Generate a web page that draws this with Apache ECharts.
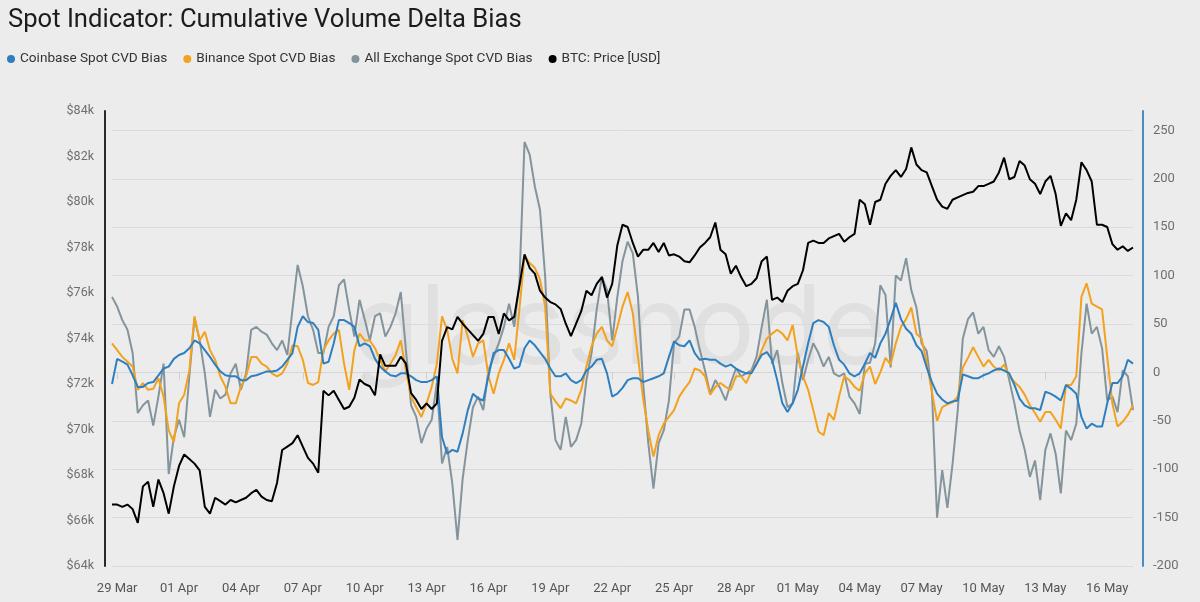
<!DOCTYPE html>
<html>
<head>
<meta charset="utf-8">
<title>Spot Indicator: Cumulative Volume Delta Bias</title>
<script src="https://cdn.jsdelivr.net/npm/echarts@6/dist/echarts.min.js"></script>
<style>
  html, body { margin: 0; padding: 0; background: #ececec; }
  #chart { width: 1200px; height: 602px; }
</style>
</head>
<body>
<div id="chart"></div>
<script>
// 6-hourly samples starting 28 Mar 18:00
const startTime = Date.UTC(2024, 2, 28, 18);
const stepHours = 6;

const tickLabels = ['29 Mar', '01 Apr', '04 Apr', '07 Apr', '10 Apr', '13 Apr', '16 Apr', '19 Apr', '22 Apr',
    '25 Apr', '28 Apr', '01 May', '04 May', '07 May', '10 May', '13 May', '16 May'];

const btcPrice = [
    66700, 66700, 66600, 66700, 66500, 65900, 67500, 67700, 66600, 67800,
    67200, 66300, 67500, 68400, 68900, 68700, 68500, 68200, 66600, 66300,
    67000, 66850, 66700, 66900, 66800, 66900, 67000, 67200, 67350, 67050,
    66900, 66850, 67650, 69100, 69250, 69400, 69750, 69250, 68750, 68500,
    68100, 71700, 71500, 71700, 71300, 70900, 71000, 71400, 72200, 72000,
    71900, 71500, 73300, 72800, 72800, 72800, 73200, 72900, 71600, 71300,
    70900, 71150, 70900, 71150, 73900, 74500, 74400, 74950, 74650, 74400,
    74150, 73900, 74200, 74950, 74950, 74200, 75100, 74800, 74950, 76300,
    77700, 77100, 76850, 76100, 75800, 75600, 75500, 75300, 74650, 74100,
    74650, 75200, 76100, 75900, 76400, 76700, 75800, 76400, 78100, 79000,
    78900, 78200, 77600, 77900, 77900, 78200, 77800, 78200, 77650, 77700,
    77600, 77400, 77350, 77650, 78000, 78200, 78450, 79100, 77900, 77700,
    76850, 77200, 76700, 76300, 76400, 76650, 77400, 77600, 75700, 75800,
    75600, 76100, 76300, 76400, 77000, 78200, 78300, 78200, 78200, 78400,
    78500, 78600, 78250, 78450, 78600, 80100, 79900, 79000, 80000, 80100,
    80800, 81150, 81400, 81100, 81450, 82400, 81650, 81400, 81300, 80700,
    80100, 79800, 79700, 80100, 80200, 80300, 80400, 80450, 80700, 80700,
    80800, 80900, 81300, 81950, 81000, 81100, 81800, 81600, 81000, 80800,
    80350, 80900, 81150, 80350, 78950, 79500, 79200, 80100, 81750, 81400,
    80900, 79000, 79000, 78900, 78150, 77900, 78050, 77850, 78000
];

const coinbaseBias = [
    -12, 14, 11, 8, -3, -15, -15, -11, -10, -3, 4, 6, 14, 18, 20, 25, 33, 30, 23, 16,
    8, 1, -3, -4, -4, -8, -8, -4, -3, -1, 1, 1, 2, 6, 13, 20, 47, 58, 52, 51,
    44, 9, 11, 30, 54, 54, 51, 47, 27, 30,
    27, 14, 6, 1, -3, -4, -1, -1, -4, -8, -10, -10, -8, -4, -67, -84, -80, -82, -63, -39,
    -22, -27, -29, -4, 20, 23, 23, 14, 4, 6, 25, 33, 28, 21, 14, 4, -4, -4, -1, -8,
    -11, -8, 2, 6, 13, 14, -1, -25, -22, -16,
    -8, -6, -6, -10, -8, -6, -4, -1, 16, 32, 28, 27, 33, 20, 13, 14, 13, 13, 9, 6,
    8, 4, 1, -1, -1, 9, 18, 21, 13, -8, -32, -41, -32, -18, 6, 30, 51, 54, 52, 47,
    28, 13, 8, -1, -4, -1, 9, 20, 15, 30,
    40, 55, 72, 55, 45, 40, 28, 22, 5, -10, -22, -28, -32, -30, -29, -2, -4, -6, -6, -3,
    -1, 2, 4, 2, -1, -13, -27, -34, -37, -37, -39, -20, -22, -25, -29, -13, -17, -22, -46, -58,
    -53, -56, -56, -32, -11, -11, -4, 13, 9
];

const binanceBias = [
    30, 23, 16, 11, 6, -18, -11, -18, -17, -6, -25, -60, -72, -32, -23, 2, 58, 33, 42, 23,
    13, -4, -15, -32, -32, -15, -4, 16, 16, 9, 6, -1, -4, -1, 9, 28, 27, 13, -11, -13,
    -10, 23, 33, 40, 44, 9, -18, 23, 40, 33,
    33, 25, 13, 1, 9, 18, 33, 2, -25, -36, -46, -32, -15, 9, 58, 44, 14, -1, 54, 37,
    16, 30, 33, -4, -22, -1, 13, 30, 13, 65, 120, 113, 108, 96, 68, -22, -30, -37, -27, -29,
    -32, -18, 6, 27, 40, 47, 33, 27, 47, 68,
    83, 61, 16, -27, -60, -87, -65, -53, -46, -39, -25, -17, -10, 4, 2, -4, -23, -15, -11, -15,
    -18, -4, -4, -11, 1, 8, 23, 35, 40, 44, 40, 33, 49, 16, -4, -18, -39, -61, -65, -42,
    -49, -25, -4, -8, -15, -19, -1, 6, -12, 0,
    15, 8, 30, 47, 55, 67, 40, 35, 10, -20, -50, -36, -33, -31, -25, 5, 15, 26, 16, 6,
    13, 6, 2, 8, -3, -10, -15, -23, -34, -42, -51, -41, -41, -49, -58, -13, -13, -4, 78, 92,
    71, 68, 65, 16, -32, -56, -51, -44, -34
];

const allExchangeBias = [
    78, 68, 54, 44, 20, -42, -34, -29, -55, -25, 9, -105, -67, -49, -67, -4, 56, 33, -1, -46,
    -18, -27, -23, -1, 9, -18, -1, 44, 47, 42, 39, 30, 23, 33, 18, 65, 111, 89, 58, 44,
    20, 20, 47, 58, 90, 96, 65, 37, 75, 55,
    33, 58, 61, 37, 47, 61, 83, 23, -34, -46, -73, -58, -49, -11, -94, -77, -115, -173, -110, -70,
    -36, -25, -39, 2, 16, 30, 47, 71, 47, 92, 238, 225, 192, 168, 99, -22, -70, -80, -46, -77,
    -70, -53, -8, 20, 65, 99, 85, 33, 78, 115,
    135, 123, 78, -11, -73, -120, -73, -60, -29, 30, 37, 65, 65, 47, 23, 2, -22, -8, -17, -29,
    -11, 4, -4, -1, 2, 16, 47, 75, 9, 23, -11, -36, -32, 20, -8, 13, 30, 20, 6, 16,
    -1, -4, -1, -25, -32, -43, 9, 10, 30, 90,
    80, 5, 100, 95, 118, 85, 67, 30, 22, -19, -150, -101, -140, -95, -40, 35, 55, 62, 40, 47,
    23, 16, 27, 16, -8, -32, -60, -80, -108, -91, -132, -80, -63, -84, -125, -60, -70, -53, 20, 71,
    40, 47, 25, -29, -25, -41, 2, -4, -39
];

const monthNames = ['Jan', 'Feb', 'Mar', 'Apr', 'May', 'Jun', 'Jul', 'Aug', 'Sep', 'Oct', 'Nov', 'Dec'];

function formatStamp(ms) {
    const d = new Date(ms);
    const day = String(d.getUTCDate()).padStart(2, '0');
    const hour = String(d.getUTCHours()).padStart(2, '0');
    return `${day} ${monthNames[d.getUTCMonth()]} ${hour}:00`;
}

const categories = btcPrice.map((_, idx) => formatStamp(startTime + idx * stepHours * 3600 * 1000));

// every third day at midnight gets a label
function isLabelSlot(index) {
    return index % 12 === 1;
}

const chart = echarts.init(document.getElementById('chart'));

const option = {
    animation: false,
    backgroundColor: '#ececec',
    textStyle: { fontFamily: 'Roboto, "Noto Sans", sans-serif' },
    title: {
        text: 'Spot Indicator: Cumulative Volume Delta Bias',
        left: 3,
        top: 3,
        textStyle: {
            fontSize: 25.6,
            fontWeight: 'normal',
            color: '#1c1c1c',
            fontFamily: 'Roboto, sans-serif'
        }
    },
    legend: {
        left: 2,
        top: 47,
        icon: 'circle',
        itemWidth: 8,
        itemHeight: 8,
        itemGap: 16,
        textStyle: { fontSize: 13.6, color: '#333' },
        data: ['Coinbase Spot CVD Bias', 'Binance Spot CVD Bias', 'All Exchange Spot CVD Bias', 'BTC: Price [USD]']
    },
    graphic: [{
        type: 'text',
        left: 352,
        top: 276,
        z: 0,
        silent: true,
        style: {
            text: 'glassnode',
            fontSize: 110,
            fontFamily: 'Inter, sans-serif',
            fill: 'rgba(0,0,0,0.05)'
        }
    }],
    grid: {
        left: 112,
        right: 67,
        top: 111,
        bottom: 36
    },
    xAxis: {
        type: 'category',
        boundaryGap: false,
        data: categories,
        axisLine: { show: true, lineStyle: { color: '#d6d6d6', width: 1 } },
        axisTick: {
            show: true,
            interval: isLabelSlot,
            length: 7,
            lineStyle: { color: '#cfcfcf' }
        },
        axisLabel: {
            interval: isLabelSlot,
            margin: 16,
            fontSize: 13,
            color: '#555',
            formatter: function(value, index) {
                return tickLabels[(index - 1) / 12] || value.slice(0, 6);
            }
        },
        splitLine: { show: false }
    },
    yAxis: [
        {
            type: 'value',
            position: 'left',
            min: 64000,
            max: 84000,
            interval: 2000,
            offset: 7,
            axisLine: { show: true, lineStyle: { color: '#2a2a2a', width: 2 } },
            axisTick: { show: false },
            axisLabel: {
                fontSize: 12.5,
                color: '#6f6f6f',
                margin: 11,
                formatter: function(v) { return '$' + (v / 1000) + 'k'; }
            },
            splitLine: { show: false }
        },
        {
            type: 'value',
            position: 'right',
            min: -200,
            max: 270,
            interval: 50,
            offset: 10,
            axisLine: { show: true, lineStyle: { color: '#4a8cc4', width: 2 } },
            axisTick: { show: false },
            axisLabel: {
                fontSize: 13,
                color: '#6f6f6f',
                margin: 10,
                showMaxLabel: false
            },
            splitLine: {
                show: true,
                showMaxLine: false,
                lineStyle: { color: '#dadada', width: 1 }
            }
        }
    ],
    series: [
        {
            name: 'All Exchange Spot CVD Bias',
            type: 'line',
            yAxisIndex: 1,
            data: allExchangeBias,
            showSymbol: false,
            z: 2,
            itemStyle: { color: '#84949c' },
            lineStyle: { color: '#84949c', width: 2 }
        },
        {
            name: 'Binance Spot CVD Bias',
            type: 'line',
            yAxisIndex: 1,
            data: binanceBias,
            showSymbol: false,
            z: 3,
            itemStyle: { color: '#f2a21e' },
            lineStyle: { color: '#f2a21e', width: 2 }
        },
        {
            name: 'Coinbase Spot CVD Bias',
            type: 'line',
            yAxisIndex: 1,
            data: coinbaseBias,
            showSymbol: false,
            z: 4,
            itemStyle: { color: '#2e7fc0' },
            lineStyle: { color: '#2e7fc0', width: 2 }
        },
        {
            name: 'BTC: Price [USD]',
            type: 'line',
            yAxisIndex: 0,
            data: btcPrice,
            showSymbol: false,
            z: 5,
            itemStyle: { color: '#000000' },
            lineStyle: { color: '#000000', width: 2 }
        }
    ]
};

chart.setOption(option);
</script>
</body>
</html>
